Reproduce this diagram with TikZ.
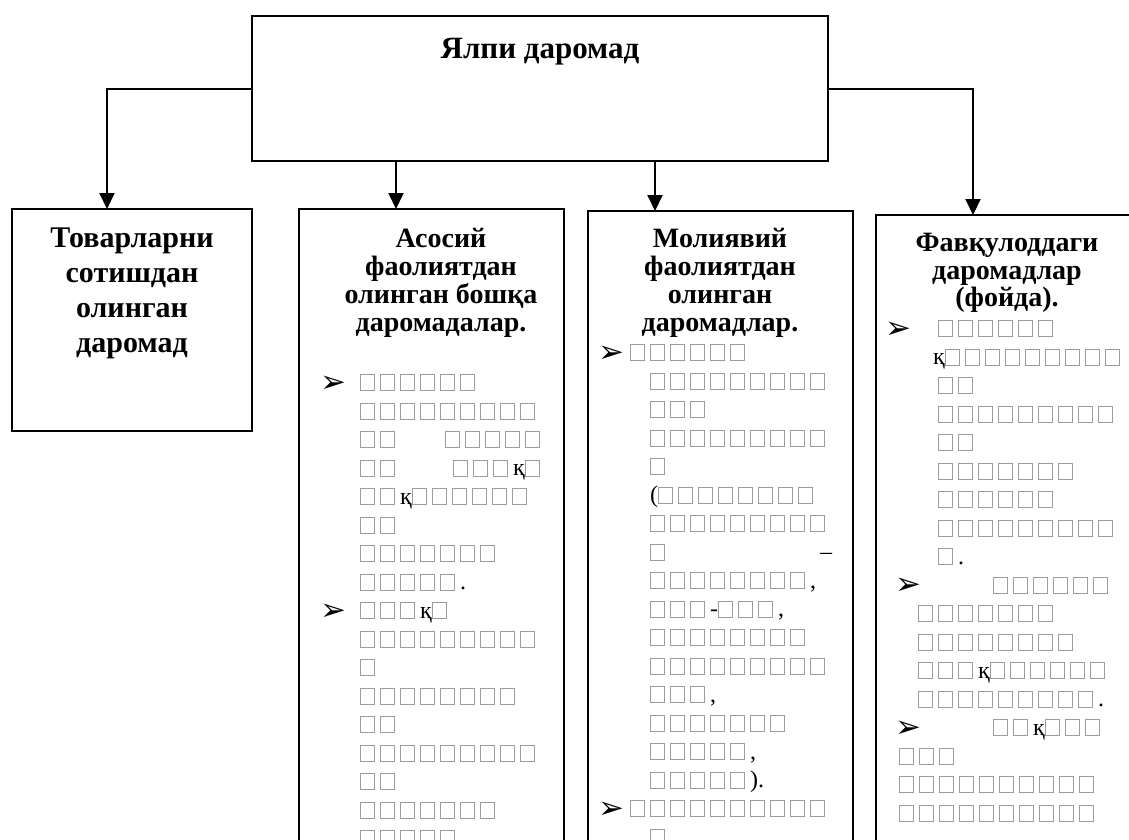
\documentclass[tikz,border=0pt]{standalone}
\usepackage{fontspec}
\setmainfont{Liberation Serif}
\newfontfamily\dejavu{DejaVu Sans}
\usetikzlibrary{arrows.meta}
\definecolor{tofu}{HTML}{9C9C9C}
\newcommand\tf{\hbox to 20pt{\textcolor{tofu}{\fboxsep=0pt\fboxrule=1.1pt\fbox{\rule{0pt}{14.8pt}\rule{12.8pt}{0pt}}}\hss}}
\newcommand\tfn[1]{\foreach\tfi in {1,...,#1}{\tf}}
\tikzset{
  frame/.style={draw=black, line width=2pt, anchor=north west, inner sep=0pt, outer sep=0pt},
  arr/.style={line width=2pt, -{Triangle[width=15pt,length=16pt]}},
  ttl/.style={font=\bfseries\fontsize{31}{35}\selectfont, anchor=base, inner sep=0pt},
  big/.style={font=\bfseries\fontsize{30}{35}\selectfont, anchor=base, inner sep=0pt},
  head/.style={font=\bfseries\fontsize{28}{28}\selectfont, anchor=base, inner sep=0pt},
  body/.style={font=\fontsize{24}{28}\selectfont, anchor=base west, inner sep=0pt},
  bul/.style={font=\dejavu\bfseries\fontsize{31}{31}\selectfont, anchor=base west, inner sep=0pt},
}
\begin{document}
\begin{tikzpicture}[x=1pt,y=-1pt]
\useasboundingbox (0,0) rectangle (1129,839);
\clip (0,0) rectangle (1129,839);
% boxes
\node[frame, minimum width=576pt, minimum height=145pt] (top) at (252,16) {};
\node[frame, minimum width=240pt, minimum height=222pt] (b1) at (12,209) {};
\node[frame, minimum width=265pt, minimum height=680pt] (b2) at (299,209) {};
\node[frame, minimum width=265pt, minimum height=680pt] (b3) at (588,211) {};
\node[frame, minimum width=280pt, minimum height=680pt] (b4) at (876,215) {};
% arrow targets
\coordinate (t1) at ([xshift=95pt]b1.north west);
\coordinate (t2) at ([xshift=97pt]b2.north west);
\coordinate (t3) at ([xshift=67pt]b3.north west);
\coordinate (t4) at ([xshift=97pt]b4.north west);
\draw[arr] (top.west) -| (t1);
\draw[arr] (top.east) -| (t4);
\draw[arr] (top.south -| t2) -- (t2);
\draw[arr] (top.south -| t3) -- (t3);
% title
\node[ttl] (title) at (540,58) {Ялпи даромад};
% box 1
\node[big] (h1a) at (132,247) {Товарларни};
\node[big] (h1b) at (132,282) {сотишдан};
\node[big] (h1c) at (132,317) {олинган};
\node[big] (h1d) at (132,352) {даромад};
% box 2 heading
\node[head] (h2a) at (441,247) {Асосий};
\node[head] (h2b) at (441,275) {фаолиятдан};
\node[head] (h2c) at (441,303) {олинган бошқа};
\node[head] (h2d) at (441,331.5) {даромадалар.};
% box 2 body
\node[bul] (p2a) at (320,392) {➢};
\node[body] (r2a) at (360,390) {\tfn6};
\node[body] (r2b) at (360,418.5) {\tfn9};
\node[body] (r2c) at (360,447) {\tfn2\hspace{45pt}\tfn5};
\node[body] (r2d) at (360,475.5) {\tfn2\hspace{53pt}\tfn3қ\tf};
\node[body] (r2e) at (360,504) {\tfn2қ\tfn6};
\node[body] (r2f) at (360,532.5) {\tfn2};
\node[body] (r2g) at (360,561) {\tfn7};
\node[body] (r2h) at (360,589.5) {\tfn5.};
\node[bul] (p2b) at (320,620) {➢};
\node[body] (r2i) at (360,618) {\tfn3қ\tf};
\node[body] (r2j) at (360,646.5) {\tfn9};
\node[body] (r2k) at (360,675) {\tf};
\node[body] (r2l) at (360,703.5) {\tfn8};
\node[body] (r2m) at (360,732) {\tfn2};
\node[body] (r2n) at (360,760.5) {\tfn9};
\node[body] (r2o) at (360,789) {\tfn2};
\node[body] (r2p) at (360,817.5) {\tfn7};
\node[body] (r2q) at (360,846) {\tfn5};
% box 3 heading
\node[head] (h3a) at (720,247) {Молиявий};
\node[head] (h3b) at (720,275) {фаолиятдан};
\node[head] (h3c) at (720,303) {олинган};
\node[head] (h3d) at (720,331.5) {даромадлар.};
% box 3 body
\node[bul] (p3a) at (598,362) {➢};
\node[body] (r3a) at (630,360) {\tfn6};
\node[body] (r3b) at (650,388.5) {\tfn9};
\node[body] (r3c) at (650,417) {\tfn3};
\node[body] (r3d) at (650,445.5) {\tfn9};
\node[body] (r3e) at (650,474) {\tf};
\node[body] (r3f) at (650,502.5) {(\tfn8};
\node[body] (r3g) at (650,531) {\tfn9};
\node[body] (r3h) at (650,559.5) {\tf\hspace{150pt}–};
\node[body] (r3i) at (650,588) {\tfn8,};
\node[body] (r3j) at (650,616.5) {\tfn3-\tfn3,};
\node[body] (r3k) at (650,645) {\tfn8};
\node[body] (r3l) at (650,673.5) {\tfn9};
\node[body] (r3m) at (650,702) {\tfn3,};
\node[body] (r3n) at (650,730.5) {\tfn7};
\node[body] (r3o) at (650,759) {\tfn5,};
\node[body] (r3p) at (650,787.5) {\tfn5).};
\node[bul] (p3b) at (598,818) {➢};
\node[body] (r3q) at (630,816) {\tfn{10}};
\node[body] (r3r) at (650,844.5) {\tf};
% box 4 heading
\node[head] (h4a) at (1007,251) {Фавқулоддаги};
\node[head] (h4b) at (1007,279) {даромадлар};
\node[head] (h4c) at (1007,306) {(фойда).};
% box 4 body
\node[bul] (p4a) at (885,338) {➢};
\node[body] (r4a) at (938,336) {\tfn6};
\node[body] (r4b) at (933,364.5) {қ\tfn9};
\node[body] (r4c) at (938,393) {\tfn2};
\node[body] (r4d) at (938,421.5) {\tfn9};
\node[body] (r4e) at (938,450) {\tfn2};
\node[body] (r4f) at (938,478.5) {\tfn7};
\node[body] (r4g) at (938,507) {\tfn6};
\node[body] (r4h) at (938,535.5) {\tfn9};
\node[body] (r4i) at (938,564) {\tf.};
\node[bul] (p4b) at (895,594.5) {➢};
\node[body] (r4j) at (993,592.5) {\tfn6};
\node[body] (r4k) at (918,621) {\tfn7};
\node[body] (r4l) at (918,649.5) {\tfn8};
\node[body] (r4m) at (918,678) {\tfn3қ\tfn6};
\node[body] (r4n) at (918,706.5) {\tfn9.};
\node[bul] (p4c) at (895,737) {➢};
\node[body] (r4o) at (993,735) {\tfn2қ\tfn3};
\node[body] (r4p) at (899,763.5) {\tfn3};
\node[body] (r4q) at (899,792) {\tfn{10}};
\node[body] (r4r) at (899,820.5) {\tfn{10}};
\end{tikzpicture}
\end{document}
